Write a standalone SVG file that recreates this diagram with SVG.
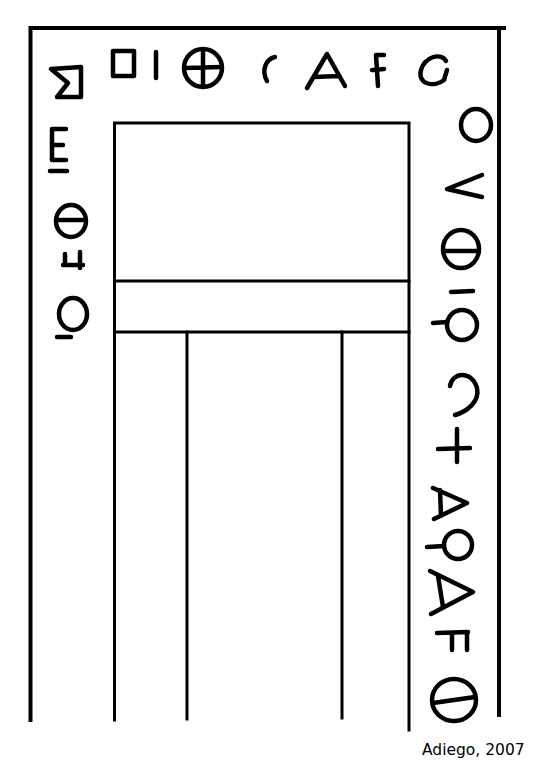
<svg xmlns="http://www.w3.org/2000/svg" width="537" height="766" viewBox="0 0 537 766">
<style>
.frame{fill:none;stroke:#000;stroke-width:4;stroke-linecap:square}
.inner{fill:none;stroke:#000;stroke-width:3;stroke-linecap:square}
.g{fill:none;stroke:#000;stroke-width:4.5;stroke-linecap:round;stroke-linejoin:round}
.cap{font-family:"DejaVu Sans","Verdana",sans-serif;font-size:15.5px;fill:#000}
</style>
<rect width="537" height="766" fill="#fff"/>
<g id="outer-frame">
<path class="frame" d="M30.5,720 L30.5,28 L504,28"/>
<path class="frame" d="M499,28 L499,715"/>
</g>
<g id="inner-frame">
<path class="inner" d="M114.5,720 L114.5,123 L409,123 L409,730"/>
<path class="inner" d="M114.5,281 L409,281"/>
<path class="inner" d="M114.5,332 L409,332"/>
<path class="inner" d="M187,332 L187,719"/>
<path class="inner" d="M342,332 L342,718"/>
</g>
<g id="top-row">
<path class="g" d="M81,97 L57,97 L68,83 L51,69 L81,67 Z"/>
<rect class="g" x="113" y="51" width="21" height="25"/>
<path class="g" d="M156,52 L156,78"/>
<circle class="g" cx="203" cy="68" r="19"/>
<path class="g" d="M185,68 L221,67 M203,50 L203,87"/>
<path class="g" d="M275,57 C266,59 261,70 267,81"/>
<path class="g" d="M307,88 L327,54 L345,86 M314,77 L339,76"/>
<path class="g" d="M376,55 L378,86 M376,55 L384,55 M372,70 L384,69"/>
<path class="g" d="M446,61 C440,52 425,57 421,70 C417,84 434,88 444,80 L447,70"/>
</g>
<g id="left-column">
<path class="g" d="M66,129 L52,129 L52,160 L66,160 M52,145 L63,145"/>
<path class="g" d="M50,171 L67,171"/>
<ellipse class="g" cx="71" cy="221" rx="15" ry="16"/>
<path class="g" d="M57,220 L85,220"/>
<path class="g" d="M65,254 L65,265 M63,265 L83,265 M80,252 L80,268"/>
<ellipse class="g" cx="73" cy="314" rx="14" ry="16"/>
<path class="g" d="M57,337 L71,337"/>
</g>
<g id="right-column">
<ellipse class="g" cx="476" cy="125" rx="15" ry="16"/>
<path class="g" d="M482,175 L447,189 L482,197"/>
<ellipse class="g" cx="461" cy="249" rx="18" ry="19"/>
<path class="g" d="M444,251 L479,251"/>
<path class="g" d="M451,292 L473,291"/>
<circle class="g" cx="462" cy="325" r="15"/>
<path class="g" d="M433,323 L447,322"/>
<path class="g" d="M450,386 C452,372 472,370 477,388 C480,402 466,412 455,415"/>
<path class="g" d="M438,449 L470,448 M457,429 L457,462"/>
<path class="g" d="M433,488 L467,503 L434,519 M440,490 L441,516"/>
<circle class="g" cx="458" cy="545" r="14"/>
<path class="g" d="M427,547 L444,546"/>
<path class="g" d="M430,571 L473,592 L431,614 M438,576 L443,607"/>
<path class="g" d="M437,633 L468,632 M452,634 L452,650 M467,633 L467,650"/>
<ellipse class="g" cx="454" cy="700" rx="22" ry="21"/>
<path class="g" d="M433,703 L475,697"/>
</g>
<text class="cap" x="422" y="755">Adiego, 2007</text>
</svg>
